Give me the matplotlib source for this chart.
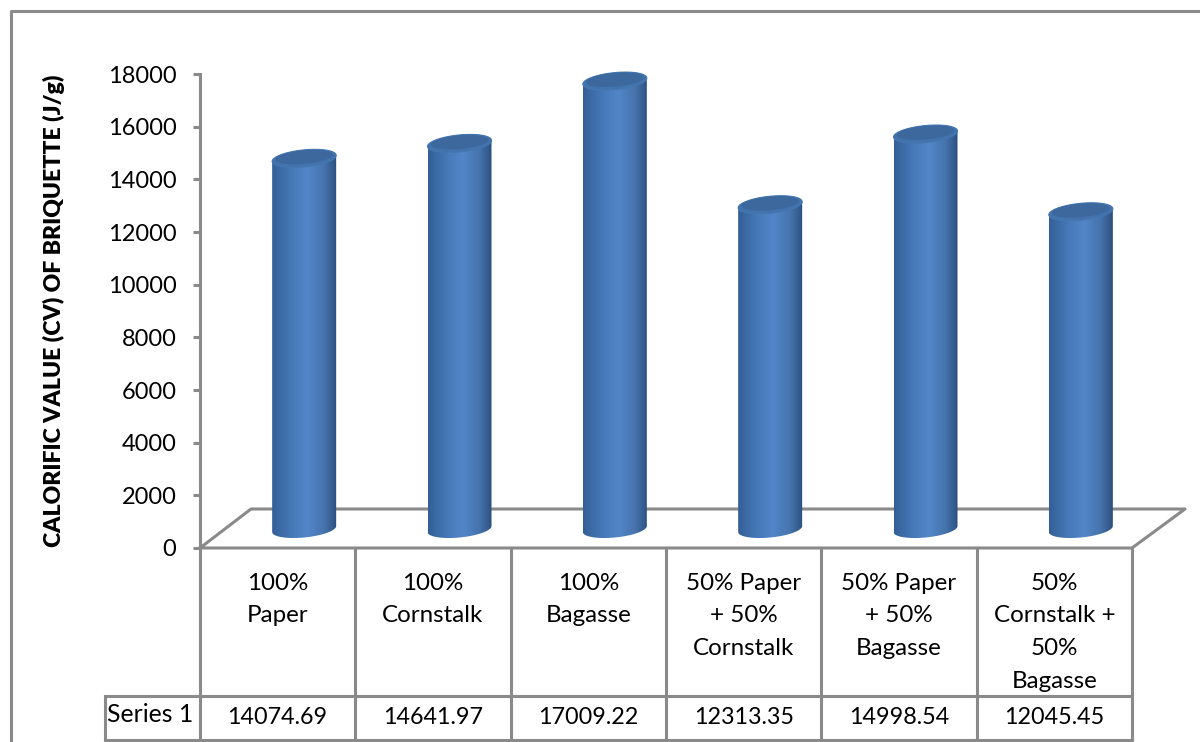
"""Calorific value of briquettes: 3D-style cylinder chart with a data table below."""

import numpy as np
import matplotlib

matplotlib.use("Agg")
import matplotlib.pyplot as plt
from matplotlib.colors import LinearSegmentedColormap
from matplotlib.patches import PathPatch, Polygon
from matplotlib.path import Path

plt.rcParams["font.family"] = ["Lato", "DejaVu Sans"]

categories = [
    "100%\nPaper",
    "100%\nCornstalk",
    "100%\nBagasse",
    "50% Paper\n+ 50%\nCornstalk",
    "50% Paper\n+ 50%\nBagasse",
    "50%\nCornstalk +\n50%\nBagasse",
]
values = [14074.69, 14641.97, 17009.22, 12313.35, 14998.54, 12045.45]
y_ticks = [0, 2000, 4000, 6000, 8000, 10000, 12000, 14000, 16000, 18000]
series_name = "Series 1"
y_label = "CALORIFIC VALUE (CV) OF BRIQUETTE (J/g)"

W, H = 1200, 742
GRAY = "#8a8a8a"
LW = 2.2

# plot area geometry in pixels
X0, X1 = 200, 1132
Y0, Y18 = 548, 74
CELL = (X1 - X0) / len(categories)
PER_PX = 18000 / (Y0 - Y18)

cyl_cmap = LinearSegmentedColormap.from_list(
    "cyl",
    [(0.0, "#335f96"), (0.3, "#4679b8"), (0.55, "#5286c9"),
     (0.8, "#4674ad"), (0.95, "#335a8c"), (1.0, "#2a4c7a")],
)

fig = plt.figure(figsize=(W / 100, H / 100), dpi=100)

# chrome (frame, floor, table) lives in a pixel-space axes underneath
bg = fig.add_axes([0, 0, 1, 1], zorder=0)
bg.set_xlim(0, W)
bg.set_ylim(H, 0)
bg.axis("off")

bg.plot([11, 11, W], [H, 11, 11], color=GRAY, lw=LW)
bg.plot([X0, 251, 1185, X1, X0], [Y0, 509, 509, Y0, Y0], color=GRAY, lw=LW)

table_top, row_line, table_bot = Y0, 696, 740
for i in range(len(categories) + 1):
    x = X0 + i * CELL
    bg.plot([x, x], [table_top, table_bot], color=GRAY, lw=LW)
bg.plot([105, X1], [row_line, row_line], color=GRAY, lw=LW)
bg.plot([105, X1], [table_bot, table_bot], color=GRAY, lw=LW)
bg.plot([105, 105], [row_line, table_bot], color=GRAY, lw=LW)

line_step = 32.7
for i, (cat, val) in enumerate(zip(categories, values)):
    xc = X0 + (i + 0.5) * CELL
    for j, part in enumerate(cat.split("\n")):
        bg.text(xc, 583 + j * line_step, part, ha="center", va="center", fontsize=17.4, color="black")
    bg.text(xc, 718, f"{val:.2f}", ha="center", va="center", fontsize=16.8, color="black")
bg.text(150, 714, series_name, ha="center", va="center", fontsize=17.8, color="black")
bg.text(54, 311, y_label, rotation=90, ha="center", va="center", fontsize=16.6,
        fontweight="heavy", color="black")

# data axes spans the whole figure so that x=i is a table cell edge and y is J/g
ax = fig.add_axes([0, 0, 1, 1], zorder=1)
ax.patch.set_alpha(0)
xlim = (-X0 / CELL, (W - X0) / CELL)
ylim = ((Y0 - H) * PER_PX, Y0 * PER_PX)

# cylinder shape in data units
half_w = 32 / CELL
off_x = 26.5 / CELL
base_y = (Y0 - 529) * PER_PX
b_cap = 8.5 * PER_PX
tilt = 3 * PER_PX

t = np.linspace(0, 2 * np.pi, 121)
ell_x = np.cos(t)
ell_y = b_cap * np.sin(t) + tilt * np.cos(t)

for i, val in enumerate(values):
    cx = i + 0.5 + off_x
    top = base_y + val
    upper = t <= np.pi
    lower = t >= np.pi
    # outline: upper arc of the cap, down the right side, lower arc of the base
    xs = np.concatenate([cx + half_w * ell_x[upper], cx + half_w * ell_x[lower]])
    ys = np.concatenate([top + ell_y[upper], base_y + ell_y[lower]])
    body = PathPatch(Path(np.column_stack([xs, ys])), fc="none", ec="none", transform=ax.transData)
    ax.add_patch(body)
    im = ax.imshow(
        np.linspace(0, 1, 256).reshape(1, -1),
        cmap=cyl_cmap,
        extent=(cx - half_w, cx + half_w, base_y - 3 * b_cap, top + 3 * b_cap),
        aspect="auto",
        interpolation="bilinear",
        zorder=2,
    )
    im.set_clip_path(body)
    cap = Polygon(np.column_stack([cx + half_w * ell_x, top + ell_y]), closed=True,
                  fc="#4273ad", ec="#4577b2", lw=0.8, zorder=3)
    ax.add_patch(cap)
    inner = Polygon(np.column_stack([cx + half_w * 0.9 * ell_x, top + 0.8 * ell_y + 0.15 * b_cap]),
                    closed=True, fc="#3c689e", ec="none", zorder=3)
    ax.add_patch(inner)

ax.set_xlim(*xlim)
ax.set_ylim(*ylim)
ax.set_xticks([])
ax.set_yticks(y_ticks)
ax.tick_params(axis="y", direction="out", length=5, width=LW, color=GRAY, labelsize=17, pad=12, labelcolor="black")
for side in ("top", "right", "bottom"):
    ax.spines[side].set_visible(False)
ax.spines["left"].set_position(("data", 0))
ax.spines["left"].set_bounds(0, 18000)
ax.spines["left"].set_color(GRAY)
ax.spines["left"].set_linewidth(LW)

fig.savefig("out.png", dpi=100)
plt.close(fig)
